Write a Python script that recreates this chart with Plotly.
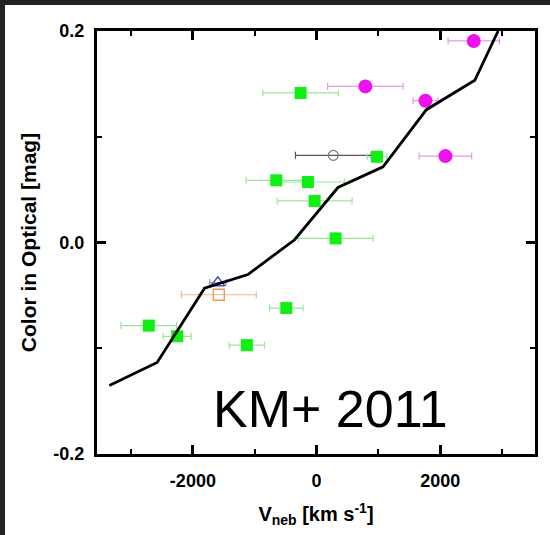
import plotly.graph_objects as go

# --- data ---
green_v = [-2713, -2254, -1128, -490, -259, -652, -140, -32, 307, 976]
green_c = [-0.0786, -0.0887, -0.0971, -0.0620, 0.1414, 0.0588, 0.0572, 0.0393, 0.0039, 0.0811]
green_err = [450, 225, 285, 270, 610, 490, 590, 605, 607, 160]

magenta_v = [2540, 788, 1759, 2082]
magenta_c = [0.1906, 0.1476, 0.1341, 0.0817]
magenta_err = [415, 610, 200, 425]

gray_v = [270]
gray_c = [0.0824]
gray_err = [612]

orange_v = [-1581]
orange_c = [-0.0494]
orange_err = [605]

blue_v = [-1597]
blue_c = [-0.0381]
blue_err = [130]

model_v = [-3350, -2578, -1812, -1112, -356, 345, 1073, 1775, 2557, 2934]
model_c = [-0.1353, -0.1134, -0.0433, -0.0303, 0.0026, 0.0520, 0.0715, 0.1256, 0.1534, 0.2000]

x_tickvals = [-2000, 0, 2000]
x_ticktext = ["-2000", "0", "2000"]
y_tickvals = [-0.2, 0.0, 0.2]
y_ticktext = ["-0.2", "0.0", "0.2"]

X_RANGE = [-3550, 3530]
Y_RANGE = [-0.2, 0.2]

W, H = 550, 535
L, R, T, B = 97, 15, 31, 79

fig = go.Figure()

def add_pts(v, c, err, sym, size, mcolor, ecolor, line_w=0):
    marker = dict(symbol=sym, size=size, color=mcolor)
    if line_w:
        marker["line"] = dict(color=mcolor, width=line_w)
    else:
        marker["line"] = dict(width=0)
    fig.add_trace(go.Scatter(
        x=v, y=c, mode="markers", marker=marker,
        error_x=dict(type="data", array=err, color=ecolor, thickness=1.2, width=3.5),
        showlegend=False, hoverinfo="skip"))

add_pts(gray_v, gray_c, gray_err, "circle-open", 10, "#777777", "#555555", 1.2)
add_pts(orange_v, orange_c, orange_err, "square-open", 11, "#e89a55", "#f0b888", 1.3)
add_pts(blue_v, blue_c, blue_err, "triangle-up-open", 12, "#3a3aa8", "#8888cc", 1.3)
add_pts(green_v, green_c, green_err, "square", 12, "#11ee11", "#99e699")
add_pts(magenta_v, magenta_c, magenta_err, "circle", 14, "#ee11ee", "#e699e6")

fig.add_trace(go.Scatter(x=model_v, y=model_c, mode="lines",
                         line=dict(color="black", width=2.8),
                         showlegend=False, hoverinfo="skip"))

# invisible trace on mirror axes so they get drawn
fig.add_trace(go.Scatter(x=[model_v[0]], y=[model_c[0]], xaxis="x2", yaxis="y2",
                         mode="markers", marker=dict(opacity=0), showlegend=False,
                         hoverinfo="skip"))

pw = W - L - R
ph = H - T - B
# white page area with a thin dark border at left and top
fig.add_shape(type="rect", xref="paper", yref="paper", layer="below",
              x0=(5 - L) / pw, x1=(W + 5 - L) / pw,
              y0=-(H + 5 - T - ph) / ph, y1=(ph + T - 5) / ph,
              fillcolor="white", line=dict(width=0))

tick_font = dict(family="Liberation Sans, Arial", size=18, color="black", weight="bold")
axis_common = dict(showline=True, linecolor="black", linewidth=3,
                   ticks="inside", ticklen=9, tickwidth=2.5, tickcolor="black",
                   showgrid=False, zeroline=False, tickfont=tick_font)

fig.update_layout(
    width=W, height=H,
    margin=dict(l=L, r=R, t=T, b=B, pad=0),
    paper_bgcolor="#222222", plot_bgcolor="white",
    xaxis=dict(range=X_RANGE, tickvals=x_tickvals, ticktext=x_ticktext,
               minor=dict(ticks="inside", ticklen=5, tickwidth=2, tickcolor="black", dtick=1000, tick0=-3000),
               ticklabelstandoff=8,
               title=dict(text="<b>V<sub>neb</sub> [km s<sup>-1</sup>]</b>", standoff=18,
                          font=dict(family="Liberation Sans, Arial", size=20, color="black")),
               **axis_common),
    yaxis=dict(range=Y_RANGE, tickvals=y_tickvals, ticktext=y_ticktext,
               minor=dict(ticks="inside", ticklen=5, tickwidth=2, tickcolor="black", dtick=0.1, tick0=-0.2),
               ticklabelstandoff=6,
               title=dict(text="<b>Color in Optical [mag]</b>", standoff=12,
                          font=dict(family="Liberation Sans, Arial", size=21, color="black")),
               **axis_common),
    xaxis2=dict(range=X_RANGE, overlaying="x", side="top", anchor="y2", tickvals=x_tickvals,
                showticklabels=False,
                minor=dict(ticks="inside", ticklen=5, tickwidth=2, tickcolor="black", dtick=1000, tick0=-3000),
                **axis_common),
    yaxis2=dict(range=Y_RANGE, overlaying="y", side="right", anchor="x2", tickvals=y_tickvals,
                showticklabels=False,
                minor=dict(ticks="inside", ticklen=5, tickwidth=2, tickcolor="black", dtick=0.1, tick0=-0.2),
                **axis_common),
    annotations=[dict(text="KM+ 2011", xref="paper", yref="paper",
                      x=(330 - L) / pw, y=(456 - 411) / ph, xanchor="center", yanchor="middle",
                      showarrow=False,
                      font=dict(family="Liberation Sans, Arial", size=52, color="black"))],
)

fig.write_html("out.html")
